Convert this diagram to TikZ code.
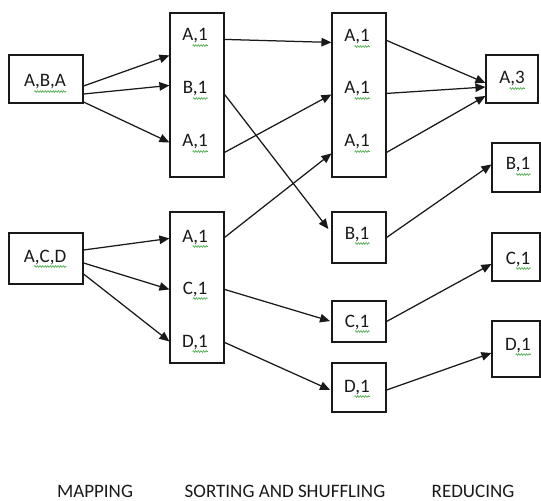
\documentclass[tikz,border=0pt]{standalone}
\usepackage{fontspec}
\setmainfont{Carlito}
\usetikzlibrary{arrows.meta,calc,decorations.pathmorphing}
\definecolor{ink}{RGB}{25,25,25}
\definecolor{spell}{RGB}{70,170,70}
\begin{document}
\begin{tikzpicture}[x=1bp,y=-1bp,
  box/.style={draw=ink,line width=1.15bp,inner sep=0pt},
  lbl/.style={anchor=base,inner sep=0pt,text=ink,font=\fontsize{19bp}{21bp}\selectfont},
  flow/.style={draw=ink,line width=1.25bp,-{Triangle[length=10bp,width=8.5bp]}},
  squiggle/.style={draw=spell,line width=0.6bp,decorate,
    decoration={zigzag,segment length=2.6bp,amplitude=0.9bp}}]
\useasboundingbox (0,0) rectangle (541,501);

% input splits
\node[box,minimum width=74bp,minimum height=48bp] (inA) at (46,79) {};
\node[box,minimum width=74bp,minimum height=51bp] (inB) at (46,258.5) {};
% map output
\node[box,minimum width=54bp,minimum height=164bp] (mapA) at (197,95) {};
\node[box,minimum width=54bp,minimum height=151bp] (mapB) at (197,287.5) {};
% sorted groups
\node[box,minimum width=54bp,minimum height=164bp] (srtA) at (359,95) {};
\node[box,minimum width=54bp,minimum height=51bp] (srtB) at (359,237.5) {};
\node[box,minimum width=54bp,minimum height=41bp] (srtC) at (359,321.5) {};
\node[box,minimum width=54bp,minimum height=49bp] (srtD) at (359,387.5) {};
% reduced counts
\node[box,minimum width=52bp,minimum height=48bp] (redA) at (512,79) {};
\node[box,minimum width=48bp,minimum height=49bp] (redB) at (516,167.5) {};
\node[box,minimum width=48bp,minimum height=48bp] (redC) at (516,257) {};
\node[box,minimum width=48bp,minimum height=56bp] (redD) at (516,349) {};

% texts
\node[lbl] (tInA) at (45,87) {A,B,A};
\node[lbl] (tInB) at (45,262) {A,C,D};
\node[lbl] (tM1) at (195,41) {A,1};
\node[lbl] (tM2) at (195,94) {B,1};
\node[lbl] (tM3) at (195,147) {A,1};
\node[lbl] (tM4) at (195,242) {A,1};
\node[lbl] (tM5) at (195,294) {C,1};
\node[lbl] (tM6) at (195,347) {D,1};
\node[lbl] (tS1) at (357,42) {A,1};
\node[lbl] (tS2) at (357,94) {A,1};
\node[lbl] (tS3) at (357,147) {A,1};
\node[lbl] (tS4) at (357,239) {B,1};
\node[lbl] (tS5) at (357,327) {C,1};
\node[lbl] (tS6) at (357,392) {D,1};
\node[lbl] (tR1) at (512,84) {A,3};
\node[lbl] (tR2) at (518,170) {B,1};
\node[lbl] (tR3) at (518,264) {C,1};
\node[lbl] (tR4) at (518,350) {D,1};

\foreach \t in {tInA,tInB,tM1,tM2,tM3,tM4,tM5,tM6,tS1,tS2,tS3,tS4,tS5,tS6,tR1,tR2,tR3,tR4}
  \draw[squiggle] ($(\t.base west)+(10.5,4.5)$) -- ($(\t.base east)+(0,4.5)$);

% stage captions
\node[lbl] (capMap) at (95,497) {MAPPING};
\node[lbl] (capSort) at (285,497) {SORTING AND SHUFFLING};
\node[lbl] (capRed) at (473,497) {REDUCING};

% mapping
\draw[flow] ($(inA.east)+(0,7)$) -- ($(mapA.north west)+(0,43)$);
\draw[flow] ($(inA.east)+(0,15)$) -- ($(mapA.north west)+(0,73)$);
\draw[flow] ($(inA.east)+(0,23)$) -- ($(mapA.north west)+(0,130)$);
\draw[flow] ($(inB.east)+(0,-8.5)$) -- ($(mapB.north west)+(0,27)$);
\draw[flow] ($(inB.east)+(0,4.5)$) -- ($(mapB.north west)+(0,78)$);
\draw[flow] ($(inB.east)+(0,15.5)$) -- ($(mapB.north west)+(0,130)$);

% sorting and shuffling
\draw[flow] ($(mapA.north east)+(0,27)$) -- ($(srtA.north west)+(0,30)$);
\draw[flow,shorten >=5bp] ($(mapA.north east)+(0,82)$) -- ($(srtB.west)+(0,-4.5)$);
\draw[flow] ($(mapA.north east)+(0,140)$) -- ($(srtA.north west)+(0,82)$);
\draw[flow] ($(mapB.north east)+(0,26)$) -- ($(srtA.north west)+(0,141)$);
\draw[flow,shorten >=1.5bp] ($(mapB.north east)+(0,78)$) -- (srtC.west);
\draw[flow,shorten >=1.5bp] ($(mapB.north east)+(0,131)$) -- ($(srtD.west)+(0,3)$);

% reducing
\draw[flow] ($(srtA.north east)+(0,28)$) -- ($(redA.west)+(0,4)$);
\draw[flow] ($(srtA.north east)+(0,81)$) -- ($(redA.west)+(0,8)$);
\draw[flow] ($(srtA.north east)+(0,140)$) -- ($(redA.west)+(0,17)$);
\draw[flow] (srtB.east) -- ($(redB.north west)+(0,22)$);
\draw[flow] (srtC.east) -- ($(redC.west)+(0,7)$);
\draw[flow] ($(srtD.east)+(0,2.5)$) -- ($(redD.west)+(0,4)$);
\end{tikzpicture}
\end{document}
